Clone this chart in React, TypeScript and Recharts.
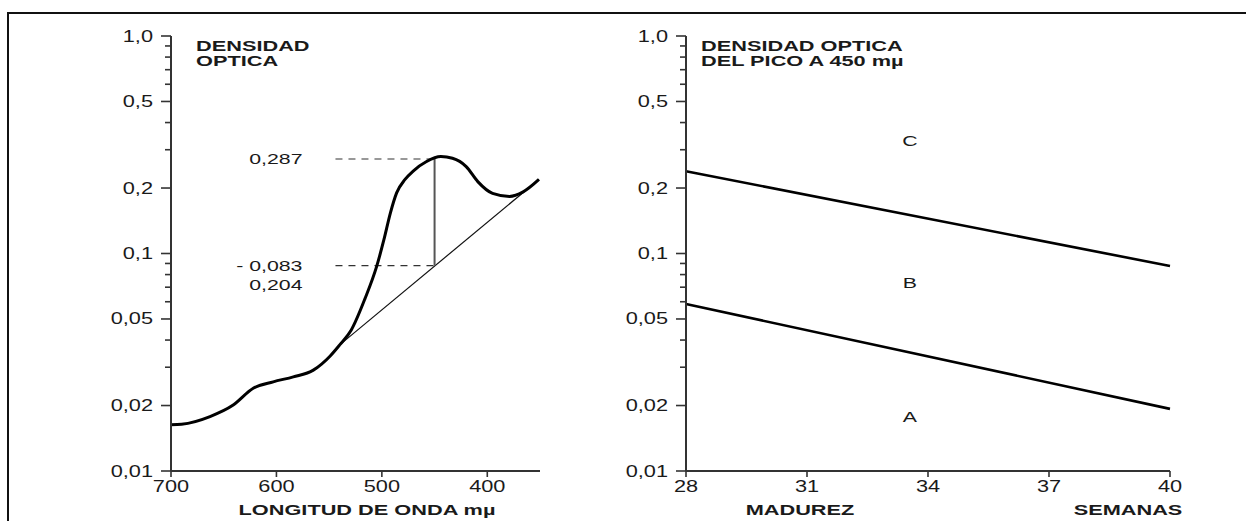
import React from "react";
import { LineChart, Line, XAxis, YAxis, ReferenceDot } from "recharts";

const FONT = "'Liberation Sans', Arial, Helvetica, sans-serif";

// left panel: absorption spectrum
const wavelengths = [700, 690, 663, 641, 622, 603, 584, 565, 549, 540, 529, 516, 505, 498, 492, 486, 478, 470, 458, 444, 433, 420, 409, 395, 379, 366, 351];
const density = [0.0163, 0.0164, 0.0178, 0.0201, 0.024, 0.0257, 0.0271, 0.0291, 0.0338, 0.038, 0.0445, 0.062, 0.087, 0.116, 0.153, 0.19, 0.219, 0.24, 0.264, 0.279, 0.274, 0.251, 0.214, 0.189, 0.183, 0.192, 0.219];
const baselineWl = [540, 351];
const baselineOd = [0.038, 0.219];
const peakWl = 450;
const peakTop = 0.272;
const peakBase = 0.088;
const dashStartWl = 544;
const wlTicks = [700, 600, 500, 400];

// right panel: zones by gestational age
const weeks = [28, 40];
const upperZone = [0.239, 0.0876];
const lowerZone = [0.0586, 0.0193];
const weekTicks = [28, 31, 34, 37, 40];
const zoneWeek = 33.55;
const zoneLabels = ["C", "B", "A"];
const zoneOd = [0.329, 0.0732, 0.0177];

const majorY = [0.01, 0.02, 0.05, 0.1, 0.2, 0.5, 1];
const minorY = [0.03, 0.04, 0.06, 0.07, 0.08, 0.09, 0.3, 0.4, 0.6, 0.7, 0.8, 0.9];
const yTicks = [...majorY, ...minorY].sort((a, b) => a - b);

const spectrum = wavelengths.map((wl, i) => ({ wl, od: density[i] }));
const baseline = baselineWl.map((wl, i) => ({ wl, od: baselineOd[i] }));
const dashTop = [{ wl: dashStartWl, od: peakTop }, { wl: peakWl, od: peakTop }];
const dashBase = [{ wl: dashStartWl, od: peakBase }, { wl: peakWl, od: peakBase }];
const peakBar = [{ wl: peakWl, od: peakTop }, { wl: peakWl, od: peakBase }];
const upper = weeks.map((wk, i) => ({ wk, od: upperZone[i] }));
const lower = weeks.map((wk, i) => ({ wk, od: lowerZone[i] }));

const fmtY = (v: number) => (v === 1 ? "1,0" : String(v).replace(".", ","));

// the scan is stretched horizontally, so text gets a scaleX
function SText({ x, y, anchor = "start", bold = false, size = 16, sx = 1.36, children }: any) {
  return (
    <text
      transform={`translate(${x},${y}) scale(${sx},1)`}
      textAnchor={anchor}
      fontFamily={FONT}
      fontSize={size}
      fontWeight={bold ? 700 : 400}
      fill="#1a1a1a"
    >
      {children}
    </text>
  );
}

const YTick = (props: any) => {
  const { x, y, payload } = props;
  const major = majorY.includes(payload.value);
  return (
    <g>
      <line x1={x - (major ? 10 : 6)} x2={x} y1={y} y2={y} stroke="#333" strokeWidth={1.6} />
      {major && (
        <SText x={x - 18} y={y + 5.5} anchor="end">
          {fmtY(payload.value)}
        </SText>
      )}
    </g>
  );
};

const XTick = (props: any) => {
  const { x, y, payload } = props;
  return (
    <g>
      <line x1={x} x2={x} y1={y} y2={y + 6} stroke="#333" strokeWidth={1.6} />
      <SText x={x} y={y + 21} anchor="middle">
        {payload.value}
      </SText>
    </g>
  );
};

const note = (lines: string[], dx: number, dy: number, anchor = "end") => (p: any) => {
  const vb = p.viewBox || {};
  const cx = vb.x + (vb.width || 0) / 2;
  const cy = vb.y + (vb.height || 0) / 2;
  return (
    <g>
      {lines.map((t, i) => (
        <SText key={i} x={cx + dx} y={cy + dy + i * 19} anchor={anchor} size={15} sx={1.42}>
          {t}
        </SText>
      ))}
    </g>
  );
};

const axisLine = { stroke: "#333", strokeWidth: 2 };

export default function App() {
  return (
    <div style={{ position: "absolute", left: 0, top: 0, width: 1246, height: 521, overflow: "hidden", background: "#fff" }}>
      <div style={{ position: "absolute", left: 7, top: 12, width: 1300, height: 600, border: "2px solid #111" }} />

      <div style={{ position: "absolute", left: 0, top: 0 }}>
        <LineChart width={560} height={521} margin={{ top: 36, right: 20, bottom: 0, left: 111 }}>
          <XAxis dataKey="wl" type="number" domain={[350, 700]} reversed ticks={wlTicks} interval={0}
            height={50} tickSize={0} tickMargin={0} tickLine={false} axisLine={axisLine} tick={<XTick />} allowDataOverflow />
          <YAxis type="number" scale="log" domain={[0.01, 1]} ticks={yTicks} interval={0} width={60}
            tickSize={0} tickMargin={0} tickLine={false} axisLine={axisLine} tick={<YTick />} allowDataOverflow />
          <Line data={baseline} dataKey="od" type="linear" stroke="#111" strokeWidth={1.2} dot={false} isAnimationActive={false} />
          <Line data={dashTop} dataKey="od" type="linear" stroke="#333" strokeWidth={1.2} strokeDasharray="7 6" dot={false} isAnimationActive={false} />
          <Line data={dashBase} dataKey="od" type="linear" stroke="#333" strokeWidth={1.2} strokeDasharray="7 6" dot={false} isAnimationActive={false} />
          <Line data={peakBar} dataKey="od" type="linear" stroke="#555" strokeWidth={2} dot={false} isAnimationActive={false} />
          <Line data={spectrum} dataKey="od" type="monotone" stroke="#000" strokeWidth={3} dot={false} isAnimationActive={false} />
          <ReferenceDot x={dashStartWl} y={peakTop} r={1} fill="none" stroke="none" label={note(["0,287"], -33, 5)} />
          <ReferenceDot x={dashStartWl} y={peakBase} r={1} fill="none" stroke="none" label={note(["- 0,083", "0,204"], -33, 5)} />
        </LineChart>
      </div>

      <div style={{ position: "absolute", left: 520, top: 0 }}>
        <LineChart width={726} height={521} margin={{ top: 36, right: 76, bottom: 0, left: 106 }}>
          <XAxis dataKey="wk" type="number" domain={[28, 40]} ticks={weekTicks} interval={0}
            height={50} tickSize={0} tickMargin={0} tickLine={false} axisLine={axisLine} tick={<XTick />} />
          <YAxis type="number" scale="log" domain={[0.01, 1]} ticks={yTicks} interval={0} width={60}
            tickSize={0} tickMargin={0} tickLine={false} axisLine={axisLine} tick={<YTick />} allowDataOverflow />
          <Line data={upper} dataKey="od" type="linear" stroke="#000" strokeWidth={2.6} dot={false} isAnimationActive={false} />
          <Line data={lower} dataKey="od" type="linear" stroke="#000" strokeWidth={2.6} dot={false} isAnimationActive={false} />
          {zoneLabels.map((z, i) => (
            <ReferenceDot key={z} x={zoneWeek} y={zoneOd[i]} r={1} fill="none" stroke="none" label={note([z], 0, 5, "middle")} />
          ))}
        </LineChart>
      </div>

      <svg width={1246} height={521} style={{ position: "absolute", left: 0, top: 0, pointerEvents: "none" }}>
        <SText x={196} y={51} bold size={15} sx={1.45}>DENSIDAD</SText>
        <SText x={196} y={66} bold size={15} sx={1.45}>OPTICA</SText>
        <SText x={701} y={51} bold size={15} sx={1.45}>DENSIDAD OPTICA</SText>
        <SText x={701} y={66} bold size={15} sx={1.45}>DEL PICO A 450 mµ</SText>
        <SText x={367} y={515} anchor="middle" bold size={15} sx={1.45}>LONGITUD DE ONDA mµ</SText>
        <SText x={800} y={515} anchor="middle" bold size={15} sx={1.45}>MADUREZ</SText>
        <SText x={1128} y={515} anchor="middle" bold size={15} sx={1.45}>SEMANAS</SText>
      </svg>
    </div>
  );
}
